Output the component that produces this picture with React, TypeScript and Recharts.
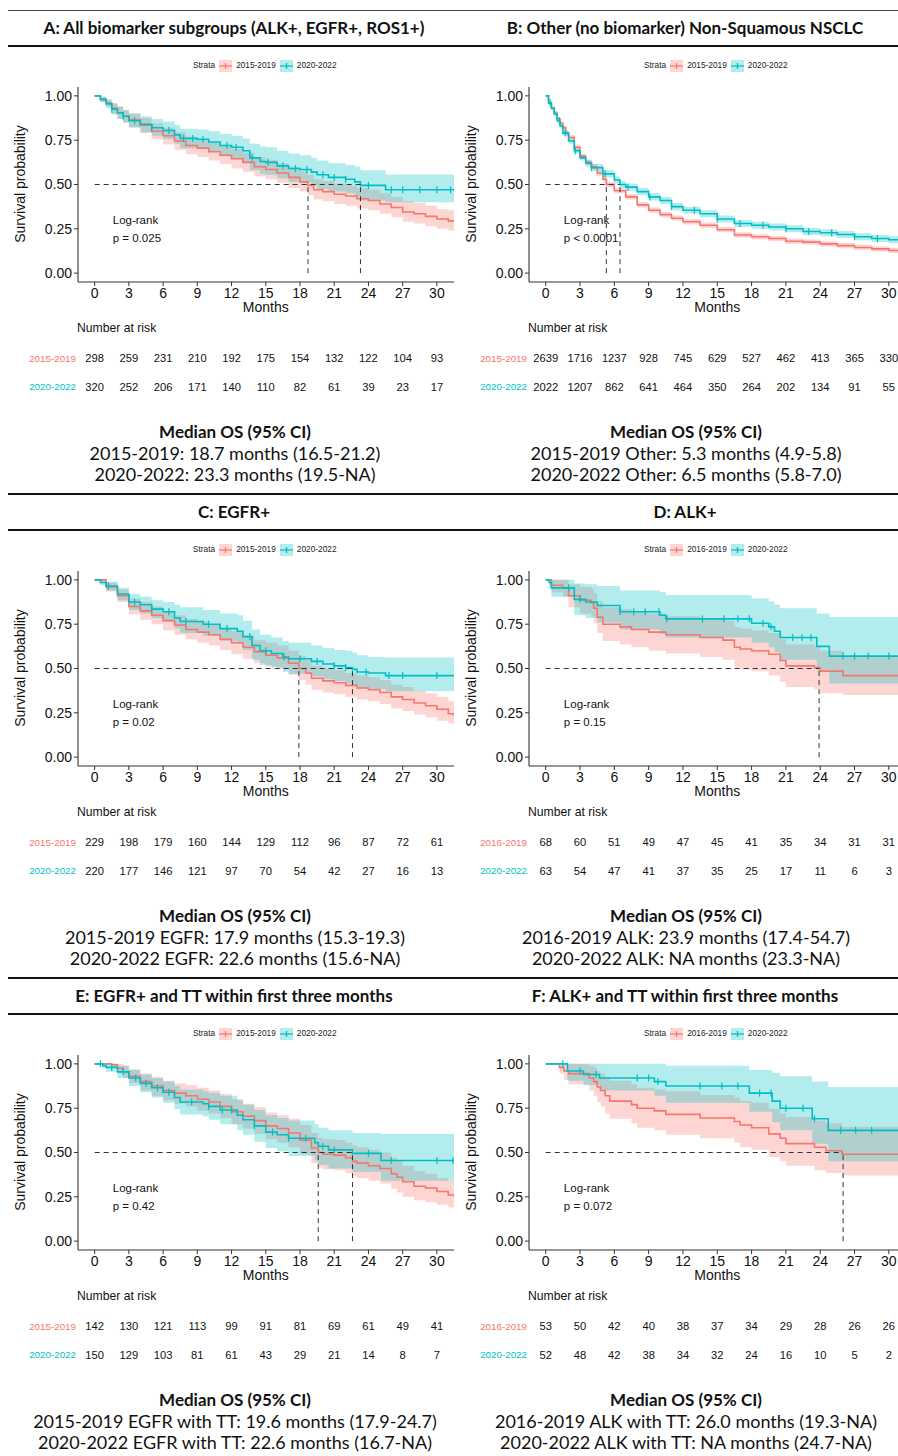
import React from 'react';
import { ComposedChart, ScatterChart, Line, Area, Scatter, XAxis, YAxis, ReferenceLine } from 'recharts';

const RED = '#F8766D';
const BLUE = '#00BFC4';

const xTicks = [0, 3, 6, 9, 12, 15, 18, 21, 24, 27, 30];
const yTicks = [0, 0.25, 0.5, 0.75, 1];
const X_DOMAIN = [-1.46, 31.5];

// rows: [month, survival, lower 95%, upper 95%]
const aEarly = [
  [0, 1, 1, 1], [0.5, 0.98, 0.965, 0.995], [1, 0.96, 0.94, 0.98], [1.5, 0.93, 0.9, 0.96],
  [2, 0.905, 0.87, 0.94], [2.5, 0.885, 0.85, 0.92], [3, 0.865, 0.825, 0.9], [4, 0.835, 0.79, 0.875],
  [5, 0.8, 0.755, 0.845], [6, 0.775, 0.725, 0.82], [7, 0.745, 0.695, 0.795], [8, 0.72, 0.67, 0.77],
  [9, 0.705, 0.655, 0.755], [10, 0.685, 0.635, 0.735], [11, 0.665, 0.615, 0.72], [12, 0.645, 0.59, 0.7],
  [13, 0.625, 0.57, 0.68], [14, 0.6, 0.545, 0.655], [15, 0.585, 0.53, 0.64], [16, 0.565, 0.51, 0.62],
  [17, 0.54, 0.48, 0.6], [18, 0.515, 0.46, 0.575], [18.7, 0.495, 0.44, 0.555], [19.2, 0.47, 0.415, 0.53],
  [20, 0.46, 0.405, 0.52], [21, 0.445, 0.39, 0.505], [22, 0.435, 0.38, 0.495], [23, 0.42, 0.365, 0.48],
  [24, 0.41, 0.355, 0.47], [25, 0.39, 0.335, 0.45], [26, 0.37, 0.315, 0.43], [27, 0.345, 0.29, 0.405],
  [28, 0.335, 0.28, 0.395], [29, 0.32, 0.265, 0.38], [30, 0.305, 0.25, 0.36], [31, 0.295, 0.24, 0.355],
  [31.5, 0.29, 0.24, 0.35],
];
const aLate = [
  [0, 1, 1, 1], [0.5, 0.98, 0.965, 0.995], [1, 0.955, 0.93, 0.98], [1.5, 0.925, 0.895, 0.955],
  [2, 0.905, 0.87, 0.94], [2.5, 0.885, 0.85, 0.92], [3, 0.86, 0.82, 0.9], [4, 0.84, 0.795, 0.885],
  [5, 0.82, 0.775, 0.87], [6, 0.805, 0.755, 0.855], [7, 0.78, 0.73, 0.835], [7.5, 0.76, 0.705, 0.815],
  [9, 0.755, 0.7, 0.81], [10, 0.74, 0.685, 0.8], [11, 0.72, 0.66, 0.785], [12, 0.71, 0.645, 0.775],
  [13, 0.69, 0.625, 0.76], [13.6, 0.65, 0.58, 0.73], [14.5, 0.63, 0.56, 0.715], [15, 0.625, 0.555, 0.71],
  [16, 0.605, 0.535, 0.69], [17, 0.59, 0.515, 0.675], [18, 0.585, 0.51, 0.665], [19, 0.57, 0.495, 0.65],
  [19.5, 0.555, 0.475, 0.635], [20.5, 0.54, 0.46, 0.62], [22, 0.53, 0.45, 0.61], [22.8, 0.515, 0.43, 0.6],
  [23.3, 0.495, 0.41, 0.58], [25.5, 0.47, 0.4, 0.557], [31.5, 0.47, 0.4, 0.557],
];
const aLateCensor = [1.5, 2.5, 3.5, 5, 6.5, 7.8, 8.6, 9.5, 11.6, 12.4, 13.8, 15.2, 16.5, 17.6, 18.6, 20, 21, 22, 24, 26, 27, 28.5, 30, 31.2];
const aRiskEarly = [298, 259, 231, 210, 192, 175, 154, 132, 122, 104, 93];
const aRiskLate = [320, 252, 206, 171, 140, 110, 82, 61, 39, 23, 17];

const bEarly = [
  [0, 1, 1, 1], [0.25, 0.96, 0.955, 0.965], [0.5, 0.93, 0.92, 0.94], [0.75, 0.9, 0.89, 0.91],
  [1, 0.87, 0.86, 0.88], [1.25, 0.845, 0.835, 0.855], [1.5, 0.82, 0.805, 0.835], [1.75, 0.79, 0.775, 0.805],
  [2, 0.765, 0.75, 0.78], [2.5, 0.71, 0.695, 0.725], [3, 0.66, 0.645, 0.675], [3.5, 0.625, 0.61, 0.64],
  [4, 0.6, 0.585, 0.615], [4.5, 0.565, 0.55, 0.58], [5, 0.53, 0.515, 0.545], [5.3, 0.5, 0.485, 0.515],
  [6, 0.465, 0.45, 0.48], [7, 0.43, 0.415, 0.445], [8, 0.385, 0.37, 0.4], [9, 0.355, 0.34, 0.37],
  [10, 0.33, 0.315, 0.345], [11, 0.31, 0.295, 0.325], [12, 0.29, 0.275, 0.305], [13.5, 0.27, 0.255, 0.285],
  [15, 0.245, 0.23, 0.26], [16.5, 0.215, 0.2, 0.23], [18, 0.205, 0.19, 0.22], [19.5, 0.195, 0.18, 0.21],
  [21, 0.18, 0.165, 0.195], [22.5, 0.175, 0.16, 0.19], [24, 0.165, 0.15, 0.18], [25.5, 0.155, 0.14, 0.17],
  [27, 0.145, 0.13, 0.16], [28.5, 0.137, 0.122, 0.152], [30, 0.128, 0.113, 0.143], [31.5, 0.12, 0.105, 0.135],
];
const bLate = [
  [0, 1, 1, 1], [0.25, 0.96, 0.95, 0.97], [0.5, 0.93, 0.92, 0.94], [0.75, 0.9, 0.885, 0.915],
  [1, 0.86, 0.845, 0.875], [1.25, 0.83, 0.815, 0.845], [1.5, 0.79, 0.775, 0.805], [2, 0.745, 0.73, 0.76],
  [2.5, 0.69, 0.675, 0.705], [3, 0.65, 0.635, 0.665], [3.5, 0.62, 0.6, 0.64], [4, 0.595, 0.575, 0.615],
  [5, 0.56, 0.54, 0.58], [6, 0.525, 0.505, 0.545], [6.5, 0.5, 0.48, 0.52], [7, 0.485, 0.465, 0.505],
  [8, 0.46, 0.44, 0.48], [9, 0.43, 0.41, 0.45], [10, 0.41, 0.39, 0.43], [11, 0.375, 0.355, 0.395],
  [12, 0.355, 0.335, 0.375], [13.5, 0.335, 0.315, 0.355], [15, 0.305, 0.285, 0.325], [16.5, 0.28, 0.26, 0.3],
  [18, 0.27, 0.25, 0.29], [19.5, 0.26, 0.24, 0.28], [21, 0.25, 0.23, 0.27], [22.5, 0.235, 0.215, 0.255],
  [24, 0.228, 0.208, 0.248], [25.5, 0.218, 0.198, 0.238], [27, 0.205, 0.185, 0.225], [28.5, 0.195, 0.175, 0.215],
  [30, 0.188, 0.168, 0.208], [31.5, 0.185, 0.165, 0.205],
];
const bLateCensor = [0.4, 1.2, 1.7, 2.6, 4, 5.2, 7.2, 9.1, 11, 13, 15, 17, 19, 21, 23, 25, 27, 29, 31];
const bRiskEarly = [2639, 1716, 1237, 928, 745, 629, 527, 462, 413, 365, 330];
const bRiskLate = [2022, 1207, 862, 641, 464, 350, 264, 202, 134, 91, 55];

const cEarly = [
  [0, 1, 1, 1], [1, 0.96, 0.935, 0.985], [2, 0.91, 0.875, 0.945], [3, 0.85, 0.805, 0.895],
  [4, 0.825, 0.775, 0.875], [5, 0.8, 0.75, 0.85], [6, 0.77, 0.715, 0.825], [7, 0.745, 0.69, 0.8],
  [8, 0.72, 0.665, 0.78], [9, 0.705, 0.645, 0.765], [10, 0.69, 0.63, 0.75], [11, 0.665, 0.605, 0.73],
  [12, 0.645, 0.58, 0.71], [13, 0.62, 0.555, 0.685], [14, 0.595, 0.53, 0.66], [15, 0.575, 0.51, 0.645],
  [16, 0.56, 0.495, 0.63], [17, 0.53, 0.465, 0.6], [17.9, 0.5, 0.435, 0.57], [18.5, 0.475, 0.41, 0.545],
  [19, 0.445, 0.38, 0.515], [20, 0.43, 0.365, 0.5], [21, 0.42, 0.355, 0.49], [22, 0.405, 0.34, 0.475],
  [23, 0.39, 0.325, 0.46], [24, 0.38, 0.315, 0.45], [25, 0.365, 0.3, 0.435], [26, 0.34, 0.275, 0.41],
  [27, 0.325, 0.26, 0.395], [28, 0.305, 0.24, 0.375], [29, 0.29, 0.225, 0.36], [30, 0.27, 0.205, 0.34],
  [31, 0.245, 0.19, 0.315], [31.5, 0.235, 0.185, 0.3],
];
const cLate = [
  [0, 1, 1, 1], [0.5, 0.985, 0.97, 1], [1, 0.965, 0.94, 0.99], [2, 0.92, 0.885, 0.955],
  [3, 0.875, 0.83, 0.92], [4, 0.86, 0.81, 0.905], [5, 0.835, 0.785, 0.885], [6, 0.82, 0.765, 0.875],
  [7, 0.785, 0.725, 0.86], [7.5, 0.765, 0.7, 0.845], [9.5, 0.75, 0.685, 0.83], [11, 0.725, 0.655, 0.81],
  [12.5, 0.71, 0.64, 0.8], [13, 0.68, 0.605, 0.77], [13.8, 0.63, 0.55, 0.72], [14.5, 0.6, 0.52, 0.69],
  [15.5, 0.585, 0.505, 0.675], [16.5, 0.565, 0.48, 0.655], [17, 0.555, 0.47, 0.645], [19, 0.54, 0.455, 0.63],
  [20, 0.525, 0.44, 0.615], [21, 0.515, 0.43, 0.605], [22, 0.505, 0.415, 0.6], [22.6, 0.495, 0.405, 0.59],
  [23, 0.48, 0.39, 0.575], [24, 0.475, 0.385, 0.565], [25.5, 0.46, 0.372, 0.562], [31.5, 0.46, 0.372, 0.562],
];
const cLateCensor = [1.2, 3.5, 5, 6.5, 8, 10, 11.6, 13.6, 15, 16.6, 18, 19.5, 21, 22, 23.8, 25.8, 27, 30];
const cRiskEarly = [229, 198, 179, 160, 144, 129, 112, 96, 87, 72, 61];
const cRiskLate = [220, 177, 146, 121, 97, 70, 54, 42, 27, 16, 13];

const dEarly = [
  [0, 1, 1, 1], [0.5, 0.97, 0.93, 1], [1.5, 0.955, 0.905, 1], [2, 0.91, 0.845, 0.975],
  [3, 0.885, 0.81, 0.96], [4, 0.87, 0.79, 0.95], [4.2, 0.84, 0.755, 0.925], [4.5, 0.79, 0.7, 0.88],
  [5, 0.75, 0.655, 0.845], [6.5, 0.735, 0.635, 0.835], [7.5, 0.72, 0.62, 0.82], [9, 0.705, 0.6, 0.81],
  [10.5, 0.69, 0.585, 0.795], [13.5, 0.675, 0.565, 0.785], [15.5, 0.66, 0.55, 0.77], [16.5, 0.62, 0.505, 0.735],
  [17, 0.61, 0.495, 0.725], [18, 0.6, 0.485, 0.715], [19.5, 0.58, 0.46, 0.7], [20.5, 0.545, 0.425, 0.665],
  [21, 0.515, 0.395, 0.635], [23.5, 0.505, 0.385, 0.625], [24, 0.485, 0.36, 0.6], [26, 0.46, 0.35, 0.57],
  [31.5, 0.46, 0.35, 0.57],
];
const dLate = [
  [0, 1, 1, 1], [0.3, 0.985, 0.955, 1], [0.5, 0.955, 0.905, 1], [2.5, 0.89, 0.8, 0.98],
  [3.5, 0.875, 0.785, 0.975], [4.5, 0.855, 0.76, 0.965], [6.5, 0.82, 0.72, 0.94], [10, 0.8, 0.695, 0.93],
  [10.5, 0.78, 0.675, 0.915], [18, 0.755, 0.645, 0.895], [19.5, 0.735, 0.62, 0.88], [20, 0.71, 0.59, 0.86],
  [20.5, 0.675, 0.55, 0.84], [23.7, 0.625, 0.49, 0.81], [24.8, 0.57, 0.415, 0.79], [31.5, 0.57, 0.415, 0.79],
];
const dLateCensor = [2, 3, 6.5, 7.7, 8.7, 9.9, 10.6, 13.7, 15.6, 16.8, 17.8, 19, 19.7, 21.6, 22.4, 23.2, 26, 27, 28.2, 30];
const dRiskEarly = [68, 60, 51, 49, 47, 45, 41, 35, 34, 31, 31];
const dRiskLate = [63, 54, 47, 41, 37, 35, 25, 17, 11, 6, 3];

const eEarly = [
  [0, 1, 1, 1], [1.5, 0.995, 0.985, 1], [2, 0.975, 0.95, 1], [2.5, 0.955, 0.92, 0.99],
  [3, 0.93, 0.89, 0.97], [4, 0.9, 0.85, 0.945], [5, 0.875, 0.82, 0.925], [6, 0.85, 0.795, 0.905],
  [7, 0.835, 0.775, 0.89], [8, 0.82, 0.76, 0.88], [9, 0.8, 0.735, 0.865], [10, 0.785, 0.72, 0.85],
  [11, 0.76, 0.695, 0.83], [12, 0.73, 0.66, 0.8], [13, 0.705, 0.635, 0.775], [14, 0.68, 0.605, 0.755],
  [15, 0.65, 0.575, 0.725], [16, 0.635, 0.555, 0.71], [17, 0.61, 0.53, 0.69], [18, 0.57, 0.49, 0.655],
  [19, 0.525, 0.44, 0.61], [19.6, 0.5, 0.415, 0.585], [20, 0.49, 0.405, 0.575], [21, 0.485, 0.4, 0.57],
  [22, 0.47, 0.385, 0.555], [22.6, 0.45, 0.365, 0.54], [23, 0.44, 0.355, 0.53], [24, 0.425, 0.34, 0.515],
  [25, 0.41, 0.325, 0.5], [26, 0.38, 0.295, 0.47], [26.5, 0.36, 0.275, 0.45], [27, 0.335, 0.25, 0.425],
  [28, 0.31, 0.23, 0.395], [29, 0.3, 0.22, 0.38], [30, 0.28, 0.205, 0.355], [31, 0.26, 0.19, 0.34],
  [31.5, 0.25, 0.185, 0.33],
];
const eLate = [
  [0, 1, 1, 1], [0.7, 0.99, 0.975, 1], [1, 0.98, 0.955, 1], [2, 0.955, 0.92, 0.99],
  [3, 0.92, 0.875, 0.965], [4, 0.89, 0.84, 0.94], [5, 0.865, 0.81, 0.92], [6, 0.84, 0.78, 0.9],
  [7, 0.81, 0.745, 0.875], [7.5, 0.785, 0.715, 0.855], [9.5, 0.775, 0.705, 0.845], [10, 0.76, 0.685, 0.835],
  [11, 0.74, 0.66, 0.82], [12.5, 0.71, 0.625, 0.795], [13, 0.685, 0.6, 0.77], [14, 0.65, 0.56, 0.74],
  [15, 0.615, 0.525, 0.71], [16, 0.6, 0.505, 0.695], [17, 0.58, 0.48, 0.68], [19.3, 0.555, 0.455, 0.66],
  [19.6, 0.535, 0.43, 0.64], [20.5, 0.515, 0.41, 0.625], [22.6, 0.495, 0.39, 0.61], [25.1, 0.455, 0.34, 0.605],
  [31.5, 0.455, 0.34, 0.605],
];
const eLateCensor = [0.5, 1.5, 2.5, 3.6, 4.5, 5.5, 6.5, 8.5, 10, 11.2, 12, 14, 15.6, 17, 18.5, 20, 21, 24, 26, 30, 31.4];
const eRiskEarly = [142, 130, 121, 113, 99, 91, 81, 69, 61, 49, 41];
const eRiskLate = [150, 129, 103, 81, 61, 43, 29, 21, 14, 8, 7];

const fEarly = [
  [0, 1, 1, 1], [1.2, 0.98, 0.945, 1], [1.6, 0.96, 0.91, 1], [2, 0.945, 0.885, 1],
  [3.8, 0.92, 0.85, 0.99], [4.2, 0.9, 0.82, 0.98], [4.5, 0.87, 0.785, 0.96], [4.8, 0.85, 0.76, 0.945],
  [5.2, 0.82, 0.72, 0.92], [5.6, 0.79, 0.69, 0.905], [7.5, 0.77, 0.665, 0.885], [8, 0.75, 0.64, 0.865],
  [9.5, 0.735, 0.625, 0.855], [10.5, 0.715, 0.6, 0.845], [13.5, 0.695, 0.58, 0.825], [16.5, 0.675, 0.555, 0.81],
  [17, 0.655, 0.53, 0.79], [18, 0.64, 0.515, 0.78], [19.5, 0.605, 0.475, 0.745], [20.5, 0.58, 0.45, 0.72],
  [21, 0.55, 0.425, 0.7], [23.5, 0.53, 0.4, 0.68], [24.5, 0.51, 0.385, 0.665], [25.9, 0.49, 0.37, 0.645],
  [31.5, 0.49, 0.37, 0.645],
];
const fLate = [
  [0, 1, 1, 1], [1.9, 0.96, 0.905, 1], [3.3, 0.94, 0.88, 1], [4.7, 0.92, 0.85, 1],
  [9.5, 0.9, 0.82, 1], [10.5, 0.875, 0.78, 0.99], [17.8, 0.835, 0.73, 0.965], [19.8, 0.79, 0.67, 0.95],
  [20.5, 0.75, 0.625, 0.93], [23.3, 0.69, 0.55, 0.9], [24.7, 0.625, 0.45, 0.87], [31.5, 0.625, 0.45, 0.87],
];
const fLateCensor = [1.5, 3, 4.4, 8, 9, 9.8, 13.5, 15.4, 16.8, 18.7, 19.7, 21, 22.5, 23.5, 25.8, 27.1, 28.5, 31];
const fRiskEarly = [53, 50, 42, 40, 38, 37, 34, 29, 28, 26, 26];
const fRiskLate = [52, 48, 42, 38, 34, 32, 24, 16, 10, 5, 2];

const toPts = (rows) => rows.map(([t, s, lo, hi]) => ({ t, s, ci: [lo, hi] }));
const survAt = (rows, c) => {
  let v = rows[0][1];
  for (const r of rows) if (r[0] <= c) v = r[1];
  return v;
};

const PANELS = [
  {
    title: 'A: All biomarker subgroups (ALK+, EGFR+, ROS1+)', labels: ['2015-2019', '2020-2022'],
    early: aEarly, late: aLate, censor: aLateCensor, riskEarly: aRiskEarly, riskLate: aRiskLate,
    medians: [18.7, 23.3], p: 'p = 0.025',
    os: ['2015-2019: 18.7 months (16.5-21.2)', '2020-2022: 23.3 months (19.5-NA)'],
  },
  {
    title: 'B: Other (no biomarker) Non-Squamous NSCLC', labels: ['2015-2019', '2020-2022'],
    early: bEarly, late: bLate, censor: bLateCensor, riskEarly: bRiskEarly, riskLate: bRiskLate,
    medians: [5.3, 6.5], p: 'p < 0.0001',
    os: ['2015-2019 Other: 5.3 months (4.9-5.8)', '2020-2022 Other: 6.5 months (5.8-7.0)'],
  },
  {
    title: 'C: EGFR+', labels: ['2015-2019', '2020-2022'],
    early: cEarly, late: cLate, censor: cLateCensor, riskEarly: cRiskEarly, riskLate: cRiskLate,
    medians: [17.9, 22.6], p: 'p = 0.02',
    os: ['2015-2019 EGFR: 17.9 months (15.3-19.3)', '2020-2022 EGFR: 22.6 months (15.6-NA)'],
  },
  {
    title: 'D: ALK+', labels: ['2016-2019', '2020-2022'],
    early: dEarly, late: dLate, censor: dLateCensor, riskEarly: dRiskEarly, riskLate: dRiskLate,
    medians: [23.9], p: 'p = 0.15',
    os: ['2016-2019 ALK: 23.9 months (17.4-54.7)', '2020-2022 ALK: NA months (23.3-NA)'],
  },
  {
    title: 'E: EGFR+ and TT within first three months', labels: ['2015-2019', '2020-2022'],
    early: eEarly, late: eLate, censor: eLateCensor, riskEarly: eRiskEarly, riskLate: eRiskLate,
    medians: [19.6, 22.6], p: 'p = 0.42',
    os: ['2015-2019 EGFR with TT: 19.6 months (17.9-24.7)', '2020-2022 EGFR with TT: 22.6 months (16.7-NA)'],
  },
  {
    title: 'F: ALK+ and TT within first three months', labels: ['2016-2019', '2020-2022'],
    early: fEarly, late: fLate, censor: fLateCensor, riskEarly: fRiskEarly, riskLate: fRiskLate,
    medians: [26.0], p: 'p = 0.072',
    os: ['2016-2019 ALK with TT: 26.0 months (19.3-NA)', '2020-2022 ALK with TT: NA months (24.7-NA)'],
  },
];

const ARIAL = '"Liberation Sans", Arial, sans-serif';
const TITLE_FONT = 'Lato, "Open Sans", sans-serif';

const LegendKey = ({ color }) => (
  <svg width={13} height={12} style={{ verticalAlign: 'middle' }}>
    <rect x={0} y={0} width={13} height={12} fill={color} fillOpacity={0.3} />
    <line x1={0} x2={13} y1={6} y2={6} stroke={color} strokeWidth={1.2} />
    <line x1={6.5} x2={6.5} y1={3} y2={9} stroke={color} strokeWidth={1.2} />
  </svg>
);

const Panel = ({ cfg, left, top, plotW }) => {
  const yw = 78;
  const chartW = yw + plotW + 10;
  const earlyPts = toPts(cfg.early);
  const latePts = toPts(cfg.late);
  const censorPts = cfg.censor.map((c) => ({ t: c, s: survAt(cfg.late, c) }));
  const maxMed = Math.max(...cfg.medians);
  const riskPts = [
    ...xTicks.map((t, i) => ({ t, row: 1, n: cfg.riskEarly[i] })),
    ...xTicks.map((t, i) => ({ t, row: 0, n: cfg.riskLate[i] })),
  ];
  const pxPerMonth = plotW / (X_DOMAIN[1] - X_DOMAIN[0]);
  const xOf = (m) => yw + (m - X_DOMAIN[0]) * pxPerMonth;
  const abs = { position: 'absolute' as const };

  return (
    <div style={{ ...abs, left, top, width: 470, height: 484 }}>
      <div style={{ ...abs, left: 0, width: 470, top: 17, textAlign: 'center', fontFamily: TITLE_FONT, fontWeight: 700, fontSize: 17, lineHeight: '22px', color: '#111' }}>
        <span style={{ position: 'relative', left: -1 }}>{cfg.title}</span>
      </div>
      <div style={{ ...abs, left: 193, top: 58, fontFamily: ARIAL, fontSize: 8.3, color: '#222', whiteSpace: 'nowrap', lineHeight: '14px' }}>
        <span>Strata</span>
        <span style={{ marginLeft: 4 }}><LegendKey color={RED} /></span>
        <span style={{ marginLeft: 4 }}>{cfg.labels[0]}</span>
        <span style={{ marginLeft: 4 }}><LegendKey color={BLUE} /></span>
        <span style={{ marginLeft: 4 }}>{cfg.labels[1]}</span>
      </div>

      <div style={{ ...abs, left: 0, top: 80 }}>
        <ComposedChart width={chartW} height={232} margin={{ top: 7, right: 10, bottom: 0, left: 0 }}>
          <XAxis type="number" dataKey="t" domain={X_DOMAIN} ticks={xTicks} allowDataOverflow interval={0}
            tick={{ fontSize: 14, fill: '#111', fontFamily: ARIAL }} tickSize={4} tickLine={{ stroke: '#333' }}
            axisLine={{ stroke: '#333', strokeWidth: 1.1 }} height={30} />
          <YAxis type="number" domain={[-0.05, 1.05]} ticks={yTicks} allowDataOverflow width={yw} interval={0}
            tickFormatter={(v) => v.toFixed(2)} tick={{ fontSize: 14, fill: '#111', fontFamily: ARIAL }} tickSize={4}
            tickLine={{ stroke: '#333' }} axisLine={{ stroke: '#333', strokeWidth: 1.1 }} />
          <Area data={earlyPts} dataKey="ci" type="stepAfter" stroke="none" fill={RED} fillOpacity={0.3} isAnimationActive={false} />
          <Line data={earlyPts} dataKey="s" type="stepAfter" stroke={RED} strokeWidth={1.6} dot={false} isAnimationActive={false} />
          <Area data={latePts} dataKey="ci" type="stepAfter" stroke="none" fill={BLUE} fillOpacity={0.3} isAnimationActive={false} />
          <Line data={latePts} dataKey="s" type="stepAfter" stroke={BLUE} strokeWidth={1.6} dot={false} isAnimationActive={false} />
          <Scatter data={censorPts} dataKey="s" isAnimationActive={false}
            shape={(p) => <line x1={p.cx} x2={p.cx} y1={p.cy - 3.5} y2={p.cy + 3.5} stroke={BLUE} strokeWidth={1.2} />} />
          <ReferenceLine segment={[{ x: 0, y: 0.5 }, { x: maxMed, y: 0.5 }]} stroke="#333" strokeDasharray="5 4" strokeWidth={1} />
          {cfg.medians.map((m) => (
            <ReferenceLine key={m} segment={[{ x: m, y: 0 }, { x: m, y: 0.5 }]} stroke="#333" strokeDasharray="5 4" strokeWidth={1} />
          ))}
        </ComposedChart>
      </div>

      <div style={{ ...abs, left: 20, top: 184, transform: 'translate(-50%, -50%) rotate(-90deg)', fontFamily: ARIAL, fontSize: 14, color: '#111', whiteSpace: 'nowrap' }}>
        Survival probability
      </div>
      <div style={{ ...abs, left: xOf(15), top: 307, transform: 'translate(-50%, -50%)', fontFamily: ARIAL, fontSize: 14, color: '#111' }}>
        Months
      </div>
      <div style={{ ...abs, left: xOf(1.5) + 1, top: 211, fontFamily: ARIAL, fontSize: 11.5, color: '#111', lineHeight: '18px' }}>
        <div>Log-rank</div>
        <div>{cfg.p}</div>
      </div>

      <div style={{ ...abs, left: 77, top: 321, fontFamily: ARIAL, fontSize: 12.2, color: '#111' }}>Number at risk</div>
      <div style={{ ...abs, left: 0, top: 343.5 }}>
        <ScatterChart width={chartW} height={57} margin={{ top: 0, right: 10, bottom: 0, left: 0 }}>
          <XAxis type="number" dataKey="t" domain={X_DOMAIN} hide allowDataOverflow />
          <YAxis type="number" dataKey="row" domain={[-0.5, 1.5]} ticks={[0, 1]} width={yw} axisLine={false} tickLine={false}
            tickSize={0} tickMargin={2}
            tick={(p) => (
              <text x={p.x} y={p.y} dy="0.35em" textAnchor="end" fontFamily={ARIAL} fontSize={9.8}
                fill={p.payload.value === 1 ? RED : BLUE}>
                {p.payload.value === 1 ? cfg.labels[0] : cfg.labels[1]}
              </text>
            )} />
          <Scatter data={riskPts} isAnimationActive={false}
            shape={(p) => (
              <text x={p.cx} y={p.cy} dy="0.35em" textAnchor="middle" fontFamily={ARIAL} fontSize={11.2} fill="#111">
                {p.payload.n}
              </text>
            )} />
        </ScatterChart>
      </div>

      <div style={{ ...abs, left: 0, width: 470, top: 422, textAlign: 'center', fontFamily: TITLE_FONT, color: '#111', fontSize: 18, lineHeight: '20.8px' }}>
        <div style={{ fontWeight: 700, fontSize: 17 }}>Median OS (95% CI)</div>
        <div>{cfg.os[0]}</div>
        <div>{cfg.os[1]}</div>
      </div>
    </div>
  );
};

export default function App() {
  const rows = [0, 1, 2];
  return (
    <div style={{ position: 'absolute', left: 0, top: 0, width: 898, height: 1456, overflow: 'hidden', background: '#fff' }}>
      {rows.map((r) => (
        <React.Fragment key={r}>
          <div style={{ position: 'absolute', left: 8, right: 0, top: r * 484 + (r === 0 ? 9.5 : 9), height: r === 0 ? 1 : 2, background: r === 0 ? '#444' : '#111' }} />
          <div style={{ position: 'absolute', left: 8, right: 0, top: r * 484 + 45, height: 2, background: '#111' }} />
        </React.Fragment>
      ))}
      {PANELS.map((cfg, i) => (
        <Panel key={i} cfg={cfg} left={(i % 2) * 451} top={Math.floor(i / 2) * 484} plotW={i % 2 === 0 ? 376 : 377} />
      ))}
    </div>
  );
}
